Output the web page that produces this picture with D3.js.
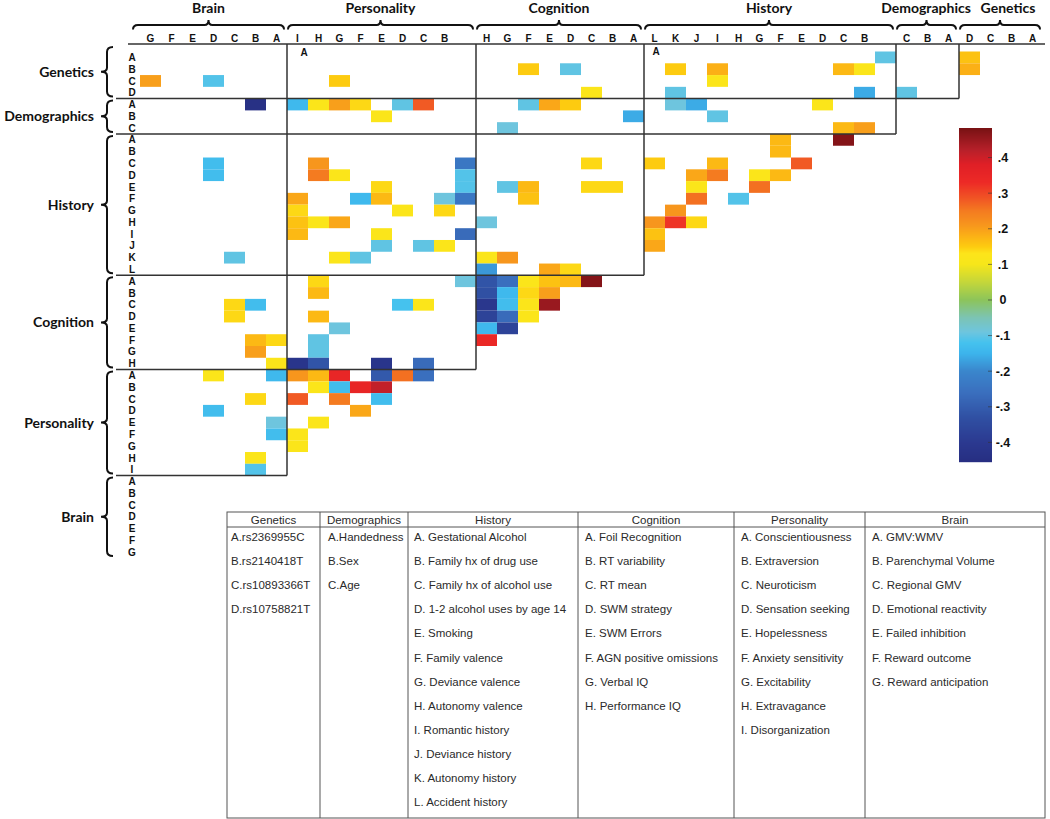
<!DOCTYPE html>
<html><head><meta charset="utf-8">
<script src="https://cdn.jsdelivr.net/npm/d3@7"></script>
<style>body{margin:0;background:#fff}svg{display:block}</style>
</head><body><svg id="c" width="1050" height="819"></svg>
<script>
// ---------------- data ----------------
const geneticsItems = ["A.rs2369955C","B.rs2140418T","C.rs10893366T","D.rs10758821T"];
const demographicsItems = ["A.Handedness","B.Sex","C.Age"];
const historyItems = ["A. Gestational Alcohol","B. Family hx of drug use","C. Family hx of alcohol use","D. 1-2 alcohol uses by age 14","E. Smoking","F. Family valence","G. Deviance valence","H. Autonomy valence","I. Romantic history","J. Deviance history","K. Autonomy history","L. Accident history"];
const cognitionItems = ["A. Foil Recognition","B. RT variability","C. RT mean","D. SWM strategy","E. SWM Errors","F. AGN positive omissions","G. Verbal IQ","H. Performance IQ"];
const personalityItems = ["A. Conscientiousness","B. Extraversion","C. Neuroticism","D. Sensation seeking","E. Hopelessness","F. Anxiety sensitivity","G. Excitability","H. Extravagance","I. Disorganization"];
const brainItems = ["A. GMV:WMV","B. Parenchymal Volume","C. Regional GMV","D. Emotional reactivity","E. Failed inhibition","F. Reward outcome","G. Reward anticipation"];

const rowGroups = ["Genetics","Demographics","History","Cognition","Personality","Brain"];
const colGroups = ["Brain","Personality","Cognition","History","Demographics","Genetics"];
const tableGroups = ["Genetics","Demographics","History","Cognition","Personality","Brain"];
const droppedHeaders = ["Personality:A","History:A"];

const colorbarTicks = [0.4,0.3,0.2,0.1,0,-0.1,-0.2,-0.3,-0.4];
const colorbarTickLabels = [".4",".3",".2",".1","0","-.1","-.2","-.3","-.4"];
const colorbarDomain = [-0.455, 0.483];

// [row letter, column group, column letter, r]
const geneticsCells = [
 ["A","History","A",-0.10],["A","Genetics","D",0.16],
 ["B","Cognition","F",0.15],["B","Cognition","D",-0.10],["B","History","K",0.15],["B","History","I",0.18],["B","History","C",0.17],["B","History","B",0.12],["B","Genetics","D",0.18],
 ["C","Brain","G",0.20],["C","Brain","D",-0.11],["C","Personality","G",0.15],["C","History","I",0.12],
 ["D","Cognition","C",0.12],["D","History","K",-0.10],["D","History","B",-0.16],["D","Demographics","C",-0.10]
];
const demographicsCells = [
 ["A","Brain","B",-0.44],["A","Personality","I",-0.14],["A","Personality","H",0.12],["A","Personality","G",0.20],["A","Personality","F",0.14],["A","Personality","D",-0.10],["A","Personality","C",0.28],
 ["A","Cognition","F",-0.10],["A","Cognition","E",0.19],["A","Cognition","D",0.15],["A","History","K",-0.09],["A","History","J",-0.16],["A","History","D",0.12],
 ["B","Personality","E",0.12],["B","Cognition","A",-0.16],["B","History","I",-0.10],
 ["C","Cognition","G",-0.09],["C","History","C",0.17],["C","History","B",0.20]
];
const historyCells = [
 ["A","History","F",0.17],["A","History","C",0.47],
 ["B","History","F",0.17],
 ["C","Brain","D",-0.13],["C","Personality","H",0.21],["C","Personality","A",-0.24],["C","Cognition","C",0.14],["C","History","L",0.15],["C","History","I",0.17],["C","History","E",0.28],
 ["D","Brain","D",-0.13],["D","Personality","H",0.25],["D","Personality","G",0.12],["D","Personality","A",-0.11],["D","History","J",0.19],["D","History","I",0.25],["D","History","G",0.12],["D","History","F",0.17],
 ["E","Personality","E",0.14],["E","Personality","A",-0.11],["E","Cognition","G",-0.10],["E","Cognition","F",0.17],["E","Cognition","C",0.14],["E","Cognition","B",0.14],["E","History","J",0.12],["E","History","G",0.26],
 ["F","Personality","I",0.19],["F","Personality","F",-0.14],["F","Personality","E",0.17],["F","Personality","B",-0.09],["F","Personality","A",-0.24],["F","Cognition","F",0.16],["F","History","J",0.26],["F","History","H",-0.11],
 ["G","Personality","I",0.14],["G","Personality","D",0.12],["G","Personality","B",0.14],["G","History","K",0.21],
 ["H","Personality","I",0.16],["H","Personality","H",0.12],["H","Personality","G",0.19],["H","Cognition","H",-0.09],["H","History","L",0.21],["H","History","K",0.32],["H","History","J",0.14],
 ["I","Personality","I",0.17],["I","Personality","E",0.12],["I","Personality","A",-0.27],["I","History","L",0.16],
 ["J","Personality","E",-0.10],["J","Personality","C",-0.10],["J","Personality","B",0.12],["J","History","L",0.19],
 ["K","Brain","C",-0.10],["K","Personality","G",0.12],["K","Personality","F",-0.10],["K","Cognition","H",0.12],["K","Cognition","G",0.21],
 ["L","Cognition","H",-0.18],["L","Cognition","E",0.19],["L","Cognition","D",0.14]
];
const cognitionCells = [
 ["A","Personality","H",0.14],["A","Personality","A",-0.09],["A","Cognition","H",-0.32],["A","Cognition","G",-0.26],["A","Cognition","F",0.12],["A","Cognition","E",0.16],["A","Cognition","D",0.17],["A","Cognition","C",0.47],
 ["B","Personality","H",0.17],["B","Cognition","H",-0.33],["B","Cognition","G",-0.14],["B","Cognition","F",0.14],["B","Cognition","E",0.20],
 ["C","Brain","C",0.14],["C","Brain","B",-0.13],["C","Personality","D",-0.12],["C","Personality","C",0.12],["C","Cognition","H",-0.41],["C","Cognition","G",-0.13],["C","Cognition","F",0.12],["C","Cognition","E",0.45],
 ["D","Brain","C",0.14],["D","Personality","H",0.17],["D","Cognition","H",-0.37],["D","Cognition","G",-0.27],["D","Cognition","F",0.12],
 ["E","Personality","G",-0.09],["E","Cognition","H",-0.14],["E","Cognition","G",-0.37],
 ["F","Brain","B",0.17],["F","Brain","A",0.14],["F","Personality","H",-0.10],["F","Cognition","H",0.34],
 ["G","Brain","B",0.20],["G","Personality","H",-0.10],
 ["H","Brain","A",0.12],["H","Personality","I",-0.42],["H","Personality","H",-0.32],["H","Personality","E",-0.42],["H","Personality","C",-0.27]
];
const personalityCells = [
 ["A","Brain","D",0.12],["A","Brain","A",-0.14],["A","Personality","I",0.21],["A","Personality","H",0.17],["A","Personality","G",0.35],["A","Personality","E",-0.31],["A","Personality","D",0.26],["A","Personality","C",-0.26],
 ["B","Personality","H",0.12],["B","Personality","G",-0.13],["B","Personality","F",0.35],["B","Personality","E",0.41],
 ["C","Brain","B",0.14],["C","Personality","I",0.28],["C","Personality","G",0.25],["C","Personality","E",-0.13],
 ["D","Brain","D",-0.13],["D","Personality","F",0.19],
 ["E","Brain","A",-0.09],["E","Personality","H",0.12],
 ["F","Brain","A",-0.13],["F","Personality","I",0.12],
 ["G","Personality","I",0.12],
 ["H","Brain","B",0.12],
 ["I","Brain","B",-0.11]
];
const brainCells = [];

// colour map (jet-like)
const cStops  = [-0.46,-0.40,-0.33,-0.26,-0.20,-0.15,-0.12,-0.09,-0.05,0,0.05,0.10,0.13,0.15,0.18,0.21,0.25,0.28,0.33,0.38,0.42,0.48];
const cColors = ["#262d80","#2b3990","#3050a3","#3a6fbe","#3a86cc","#3cb4ec","#45c2ee","#6ec5de","#7cc4b4","#8cc45a","#c4d63a","#f6e61a","#fde51a","#fdcb10","#fbb016","#f7961d","#f47b20","#f15a24","#ed2a26","#e01f26","#b8202a","#7a1214"];

// ---------------- layout ----------------
const svg = d3.select("#c");
const items = {Genetics:geneticsItems, Demographics:demographicsItems, History:historyItems, Cognition:cognitionItems, Personality:personalityItems, Brain:brainItems};
const cellsByGroup = {Genetics:geneticsCells, Demographics:demographicsCells, History:historyCells, Cognition:cognitionCells, Personality:personalityCells, Brain:brainCells};
const letters = g => items[g].map(s => s[0]);
const colKeys = colGroups.flatMap(g => letters(g).slice().reverse().map(l => g + ":" + l));
const rowKeys = rowGroups.flatMap(g => letters(g).map(l => g + ":" + l));
const X0 = 140, CW = 21, Y0 = 51.5, RH = 11.78;
const x = d3.scaleBand().domain(colKeys).range([X0, X0 + CW * colKeys.length]);
const y = d3.scaleBand().domain(rowKeys).range([Y0, Y0 + RH * rowKeys.length]);
const color = d3.scaleLinear().domain(cStops).range(cColors).interpolate(d3.interpolateRgb).clamp(true);

const colExt = g => { const k = letters(g).slice().reverse(); return [x(g+":"+k[0]), x(g+":"+k[k.length-1]) + x.bandwidth()]; };
const rowExt = g => { const k = letters(g); return [y(g+":"+k[0]), y(g+":"+k[k.length-1]) + y.bandwidth()]; };

const bold = "'Liberation Sans', Arial, sans-serif";
const titleFont = "Lato, 'Open Sans', sans-serif";

// cells
const cells = rowGroups.flatMap(g => cellsByGroup[g].map(d => ({row: g + ":" + d[0], col: d[1] + ":" + d[2], v: d[3]})));
svg.append("g").selectAll("rect").data(cells).join("rect")
  .attr("x", d => x(d.col)).attr("y", d => y(d.row))
  .attr("width", x.bandwidth()).attr("height", y.bandwidth())
  .attr("fill", d => color(d.v));

// frame lines
const lines = svg.append("g").attr("stroke", "#333").attr("stroke-width", 1.5).attr("fill", "none");
const topY = 44;
lines.append("line").attr("x1", 128).attr("x2", 1045).attr("y1", topY).attr("y2", topY);
rowGroups.forEach((g, r) => {
  if (r > 4) return;
  const yb = rowExt(g)[1];
  const xr = colExt(colGroups[4 - r])[1];
  lines.append("line").attr("x1", 116).attr("x2", xr).attr("y1", yb).attr("y2", yb);
});
colGroups.forEach((g, c) => {
  if (c > 4) return;
  const xr = colExt(g)[1];
  const yb = rowExt(rowGroups[4 - c])[1];
  lines.append("line").attr("x1", xr).attr("x2", xr).attr("y1", topY).attr("y2", yb);
});

// column headers
const hdr = svg.append("g");
colKeys.forEach(k => {
  if (droppedHeaders.includes(k)) return;
  hdr.append("text").attr("x", x(k) + x.bandwidth()/2).attr("y", 41.5)
    .attr("text-anchor", "middle").attr("font-family", bold).attr("font-weight", "bold")
    .attr("font-size", 10).attr("fill", "#111").text(k.split(":")[1]);
});
// dropped "A" labels inside first row
[[304, 55.5], [656, 55]].forEach(p => {
  hdr.append("text").attr("x", p[0]).attr("y", p[1]).attr("text-anchor", "middle")
    .attr("font-family", bold).attr("font-weight", "bold").attr("font-size", 10).attr("fill", "#111").text("A");
});

function hBrace(x1, x2, yv) {
  const m = (x1 + x2) / 2;
  return `M${x1},${yv+4.5} Q${x1},${yv} ${x1+5},${yv} L${m-4},${yv} Q${m},${yv} ${m},${yv-5} Q${m},${yv} ${m+4},${yv} L${x2-5},${yv} Q${x2},${yv} ${x2},${yv+4.5}`;
}
function vBrace(xv, y1, y2) {
  const m = (y1 + y2) / 2;
  return `M${xv+6},${y1} Q${xv},${y1} ${xv},${y1+5} L${xv},${m-4} Q${xv},${m} ${xv-6},${m} Q${xv},${m} ${xv},${m+4} L${xv},${y2-5} Q${xv},${y2} ${xv+6},${y2}`;
}
const brace = svg.append("g").attr("stroke", "#111").attr("stroke-width", 2).attr("fill", "none");
const titleCenters = {Demographics: 926, Genetics: 1008};
colGroups.forEach((g, i) => {
  const [a, b] = colExt(g);
  const x1 = i === 0 ? a - 7 : a + 1, x2 = b - 3;
  brace.append("path").attr("d", hBrace(x1, x2, 25));
  const cx = titleCenters[g] || (x1 + x2) / 2;
  svg.append("text").attr("x", cx).attr("y", 13).attr("text-anchor", "middle")
    .attr("font-family", titleFont).attr("font-weight", "bold").attr("font-size", 14).attr("fill", "#111").text(g);
});

// row headers
rowKeys.forEach(k => {
  svg.append("text").attr("x", 132).attr("y", y(k) + y.bandwidth()/2 + 3.6)
    .attr("text-anchor", "middle").attr("font-family", bold).attr("font-weight", "bold")
    .attr("font-size", 10).attr("fill", "#111").text(k.split(":")[1]);
});
rowGroups.forEach((g, i) => {
  let [a, b] = rowExt(g);
  if (i === 0) a = topY + 1;
  const y1 = a + 2, y2 = b - 2;
  brace.append("path").attr("d", vBrace(107, y1, y2));
  svg.append("text").attr("x", 94).attr("y", (y1 + y2) / 2 + 5).attr("text-anchor", "end")
    .attr("font-family", titleFont).attr("font-weight", "bold").attr("font-size", 14).attr("fill", "#111").text(g);
});

// colour bar
const cb = d3.scaleLinear().domain(colorbarDomain).range([462, 128]);
const cbX = 959, cbW = 33;
const cbRows = d3.range(128, 462, 1);
svg.append("g").selectAll("rect").data(cbRows).join("rect")
  .attr("x", cbX).attr("y", d => d).attr("width", cbW).attr("height", 1.2)
  .attr("fill", d => color(cb.invert(d + 0.5)));
colorbarTicks.forEach((v, i) => {
  svg.append("line").attr("x1", cbX + cbW - 4).attr("x2", cbX + cbW).attr("y1", cb(v)).attr("y2", cb(v))
    .attr("stroke", "#333").attr("stroke-width", 1).attr("opacity", 0.6);
  svg.append("text").attr("x", 1003).attr("y", cb(v) + 4.5).attr("text-anchor", "middle")
    .attr("font-family", bold).attr("font-weight", "bold").attr("font-size", 12.5).attr("fill", "#111")
    .text(colorbarTickLabels[i]);
});

// legend table
const tL = 227, tR = 1045, tT = 512, tH = 527, tB = 818;
const tCols = [227, 320, 408, 578, 734, 865, 1045];
const pads = [4, 8, 6, 7, 7, 7];
const tg = svg.append("g").attr("stroke", "#555").attr("stroke-width", 1).attr("fill", "none");
tg.append("rect").attr("x", tL).attr("y", tT).attr("width", tR - tL).attr("height", tB - tT);
tg.append("line").attr("x1", tL).attr("x2", tR).attr("y1", tH).attr("y2", tH);
tCols.slice(1, -1).forEach(cx => tg.append("line").attr("x1", cx).attr("x2", cx).attr("y1", tT).attr("y2", tB));
const tf = "'Liberation Sans', Arial, Helvetica, sans-serif";
tableGroups.forEach((g, i) => {
  svg.append("text").attr("x", (tCols[i] + tCols[i+1]) / 2).attr("y", 523.5).attr("text-anchor", "middle")
    .attr("font-family", tf).attr("font-size", 11.5).attr("fill", "#2a2a2a").text(g);
  items[g].forEach((s, j) => {
    svg.append("text").attr("x", tCols[i] + pads[i]).attr("y", 541 + 24.1 * j)
      .attr("font-family", tf).attr("font-size", 11.5).attr("fill", "#2a2a2a").text(s);
  });
});
</script>
</body></html>
